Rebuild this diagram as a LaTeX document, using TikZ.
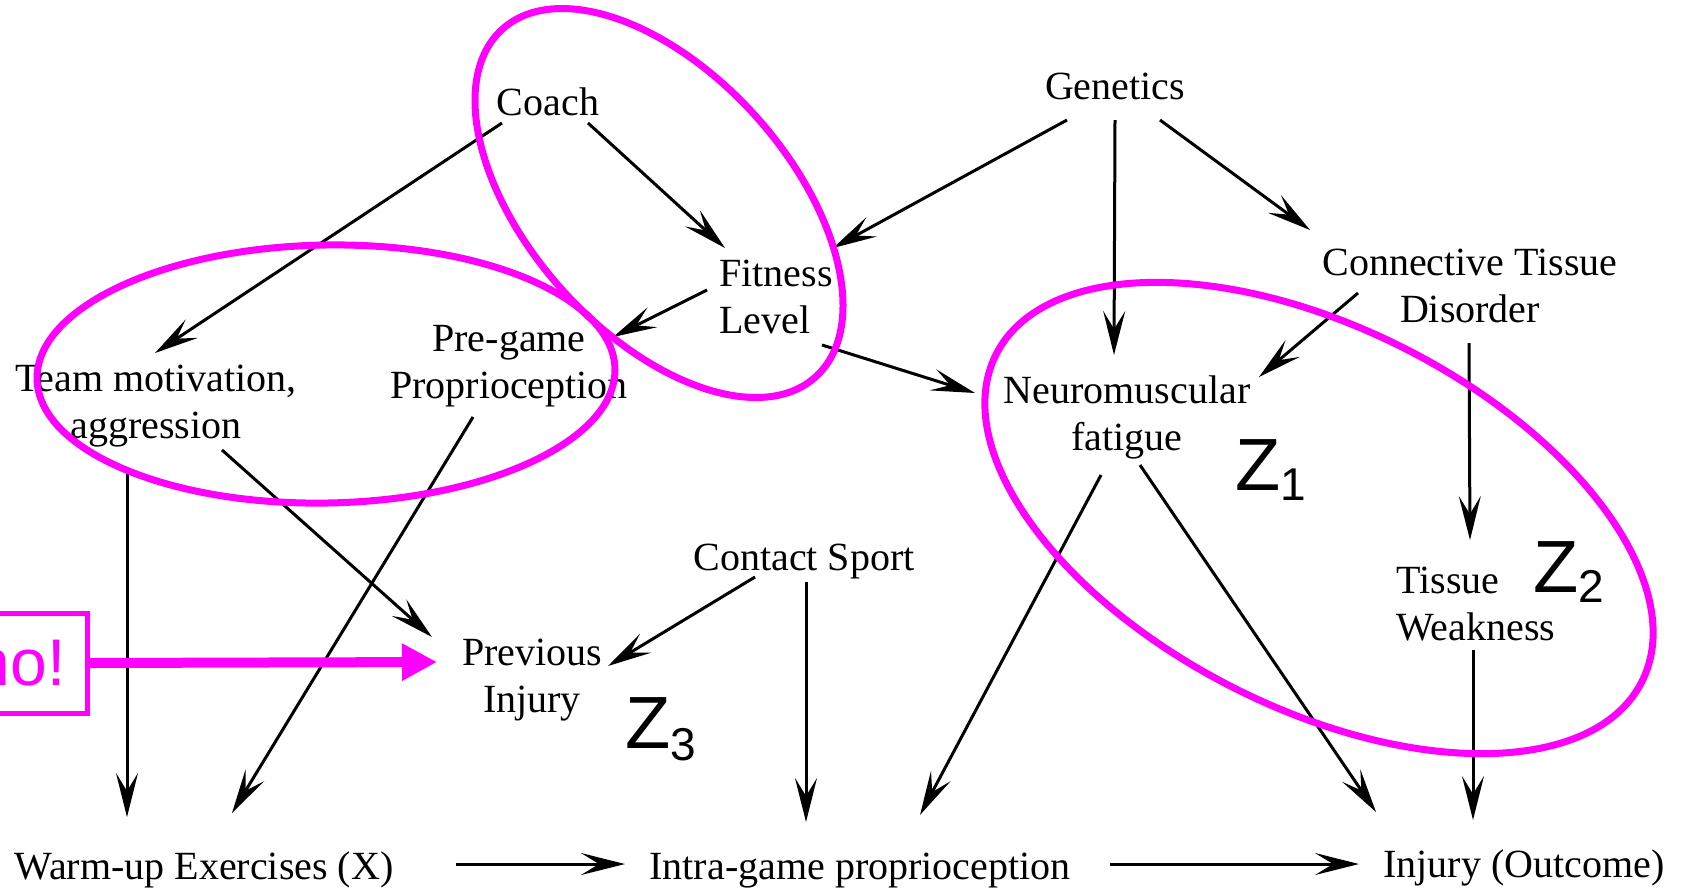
\documentclass[tikz,border=0pt]{standalone}
\usepackage{fontspec}
\setmainfont{Liberation Serif}
\newfontfamily\zfont{Liberation Sans}
\usetikzlibrary{arrows.meta,calc}
\definecolor{mag}{RGB}{255,0,255}
\begin{document}
\begin{tikzpicture}[x=0.5pt,y=-0.5pt,
  lbl/.style={inner sep=0pt, font=\fontsize{20pt}{23.5pt}\selectfont},
  arr/.style={line width=1.5pt, -{Stealth[length=22pt,width=11pt,inset=9pt]}},
  ring/.style={draw=mag, line width=3.5pt},
  zlbl/.style={inner sep=0pt, anchor=base west, font=\zfont\fontsize{37pt}{40pt}\selectfont}]
\useasboundingbox (0,0) rectangle (1681,891);

% nodes
\node[lbl,anchor=base] (coach) at (548,115) {Coach};
\node[lbl,anchor=base] (genetics) at (1115,99) {Genetics};
\node[lbl,anchor=base west] (fitness) at (719,286) {\begin{tabular}[t]{@{}l@{}}Fitness\\Level\end{tabular}};
\node[lbl,anchor=base] (connective) at (1470,275) {\begin{tabular}[t]{@{}c@{}}Connective Tissue\\Disorder\end{tabular}};
\node[lbl,anchor=base] (team) at (156,391) {\begin{tabular}[t]{@{}c@{}}Team motivation,\\aggression\end{tabular}};
\node[lbl,anchor=base] (pregame) at (509,351) {\begin{tabular}[t]{@{}c@{}}Pre-game\\Proprioception\end{tabular}};
\node[lbl,anchor=base] (neuro) at (1127,403) {\begin{tabular}[t]{@{}c@{}}Neuromuscular\\fatigue\end{tabular}};
\node[lbl,anchor=base] (contact) at (804,570) {Contact Sport};
\node[lbl,anchor=base] (previous) at (532,665) {\begin{tabular}[t]{@{}c@{}}Previous\\Injury\end{tabular}};
\node[lbl,anchor=base west] (tissue) at (1396,593) {\begin{tabular}[t]{@{}l@{}}Tissue\\Weakness\end{tabular}};
\node[lbl,anchor=base] (warmup) at (204,879) {Warm-up Exercises (X)};
\node[lbl,anchor=base] (intra) at (860,879) {Intra-game proprioception};
\node[lbl,anchor=base] (injury) at (1524,877) {Injury (Outcome)};

% Z labels
\node[zlbl] (z1) at (1235,490) {Z\raisebox{-5pt}{\fontsize{23pt}{25pt}\selectfont 1}};
\node[zlbl] (z2) at (1533,592) {Z\raisebox{-5pt}{\fontsize{23pt}{25pt}\selectfont 2}};
\node[zlbl] (z3) at (625,748) {Z\raisebox{-6pt}{\fontsize{23pt}{25pt}\selectfont 3}};

% arrows
\draw[arr] ($(coach.base)+(40,8)$) -- ($(fitness.base west)+(6,-38)$);
\draw[arr] ($(coach.base)+(-46,8)$) -- ($(team.base)+(-1,-38)$);
\draw[arr] ($(genetics.base)+(-48,21)$) -- ($(fitness.base west)+(114,-38)$);
\draw[arr] ($(genetics.base)+(0,21)$) -- ($(neuro.base)+(-13,-48)$);
\draw[arr] ($(genetics.base)+(45,21)$) -- ($(connective.base)+(-160,-45)$);
\draw[arr] ($(fitness.base west)+(-12,4)$) -- ($(pregame.base)+(104,-14)$);
\draw[arr] ($(fitness.base west)+(103,59)$) -- ($(neuro.base)+(-152,-10)$);
\draw[arr] ($(connective.base)+(-112,18)$) -- ($(neuro.base)+(132,-26)$);
\draw[arr] ($(connective.base)+(-1,68)$) -- ($(tissue.base west)+(74,-53)$);
\draw[arr] ($(team.base)+(-29,82)$) -- ($(warmup.base)+(-77,-62)$);
\draw[arr] ($(team.base)+(66,59)$) -- ($(previous.base)+(-100,-28)$);
\draw[arr] ($(pregame.base)+(-36,66)$) -- ($(warmup.base)+(28,-66)$);
\draw[arr] ($(contact.base)+(-49,7)$) -- ($(previous.base)+(76,1)$);
\draw[arr] ($(contact.base)+(2,12)$) -- ($(intra.base)+(-54,-57)$);
\draw[arr] ($(neuro.base)+(-26,72)$) -- ($(intra.base)+(60,-64)$);
\draw[arr] ($(neuro.base)+(13,62)$) -- ($(injury.base)+(-148,-65)$);
\draw[arr] ($(tissue.base west)+(77,57)$) -- ($(injury.base)+(-51,-57)$);
\draw[arr] ($(warmup.base)+(252,-15)$) -- ($(intra.base)+(-235,-15)$);
\draw[arr] ($(intra.base)+(250,-15)$) -- ($(injury.base)+(-165,-13)$);

% magenta annotations
\node[draw=mag, line width=2.5pt, anchor=east, minimum height=50pt, inner xsep=11pt, inner ysep=0pt,
      text=mag, font=\zfont\fontsize{33pt}{36pt}\selectfont] (nobox) at (90,663) {no!};
\coordinate (notip) at (437,662);
\draw[mag, line width=5pt, -{Triangle[length=17.5pt,width=17.5pt]}] (nobox.east) -- (notip);

\draw[ring] (659,203) ellipse[x radius=117pt, y radius=65pt, rotate=-48];
\draw[ring] (326,374) ellipse[x radius=144.5pt, y radius=64.5pt, rotate=1];
\draw[ring] (1319,518) ellipse[x radius=181pt, y radius=95pt, rotate=-26.9];
\end{tikzpicture}
\end{document}
